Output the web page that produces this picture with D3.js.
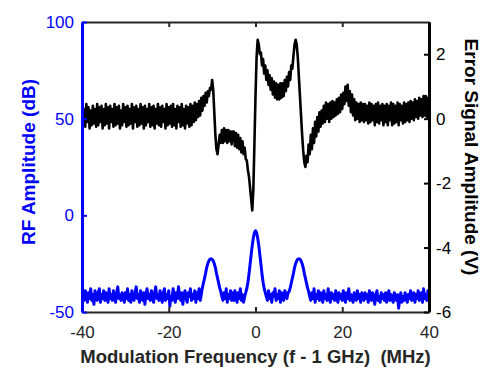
<!DOCTYPE html>
<html>
<head>
<meta charset="utf-8">
<script src="https://cdn.jsdelivr.net/npm/d3@7"></script>
<style>
  html, body { margin: 0; padding: 0; background: #fff; }
  svg { display: block; }
  text { font-family: "Liberation Sans", Arial, Helvetica, sans-serif; }
</style>
</head>
<body>
<svg id="chart" width="498" height="379"></svg>
<script>
// ---- data ----
const freqStart = -40;      // MHz
const freqStep = 0.25;      // MHz between samples

// Error signal (V), right axis; samples from -40 to 40 MHz (20 per row = 5 MHz)
const errorSignal = [
  0.4,-0.2,0.3,-0.25,0.45,-0.1,0.35,-0.3,0.25,-0.2,0.4,-0.15,0.3,-0.25,0.45,-0.2,0.35,-0.1,0.4,-0.3,
  0.3,-0.2,0.45,-0.15,0.35,-0.3,0.4,-0.1,0.3,-0.25,0.45,-0.2,0.35,-0.15,0.4,-0.3,0.25,-0.2,0.45,-0.1,
  0.35,-0.25,0.4,-0.2,0.3,-0.15,0.45,-0.3,0.35,-0.1,0.4,-0.25,0.3,-0.2,0.45,-0.15,0.35,-0.3,0.4,-0.2,
  0.3,-0.1,0.45,-0.25,0.35,-0.2,0.4,-0.3,0.3,-0.15,0.45,-0.2,0.35,-0.25,0.4,-0.1,0.3,-0.3,0.45,-0.2,
  0.35,-0.15,0.4,-0.25,0.45,-0.2,0.3,-0.3,0.4,-0.1,0.35,-0.25,0.45,-0.2,0.3,-0.3,0.4,-0.15,0.35,-0.25,
  0.45,-0.2,0.4,-0.1,0.5,-0.05,0.45,0.05,0.55,0.1,0.65,0.25,0.7,0.4,0.8,0.5,0.85,0.7,0.95,0.9,
  1.2,0.9,0.2,-0.5,-0.95,-1.1,-0.8,-0.5,-0.75,-0.35,-0.75,-0.3,-0.7,-0.35,-0.75,-0.35,-0.7,-0.4,-0.8,-0.4,
  -0.4,-0.85,-0.45,-0.9,-0.5,-0.95,-0.6,-1.05,-0.7,-1.1,-0.9,-1.25,-1.3,-1.6,-1.8,-2.15,-2.5,-2.85,-2.2,-0.8,
  0.7,1.9,2.45,2.3,2.0,2.05,1.65,1.85,1.4,1.65,1.2,1.5,1.05,1.35,0.9,1.25,0.75,1.15,0.65,1.1,
  0.6,1.05,0.6,1.1,0.65,1.1,0.7,1.2,0.85,1.3,1.0,1.45,1.2,1.65,1.55,1.95,2.3,2.45,2.3,1.9,
  1.3,0.7,0.1,-0.5,-1.0,-1.35,-1.5,-1.15,-1.35,-0.8,-1.1,-0.5,-0.95,-0.3,-0.75,-0.1,-0.55,0.05,-0.4,0.2,
  -0.25,0.25,-0.15,0.4,-0.1,0.5,0.0,0.45,-0.1,0.5,0.0,0.55,0.05,0.5,0.1,0.6,0.15,0.65,0.2,0.75,
  0.3,0.8,0.45,1.0,0.55,1.05,0.4,0.85,0.2,0.75,0.1,0.6,-0.05,0.5,0.0,0.45,-0.1,0.5,-0.05,0.45,
  -0.1,0.45,-0.05,0.4,-0.15,0.5,-0.1,0.45,-0.05,0.4,-0.2,0.45,-0.1,0.5,-0.15,0.4,-0.05,0.45,-0.2,0.4,
  -0.1,0.45,-0.2,0.4,-0.05,0.5,-0.2,0.45,-0.15,0.4,-0.1,0.5,-0.2,0.45,-0.05,0.4,-0.15,0.5,-0.1,0.45,
  -0.05,0.5,-0.1,0.55,0.0,0.5,-0.05,0.6,0.05,0.55,0.0,0.65,0.1,0.6,0.05,0.7,0.1,0.7,0.05,0.65,
  0.4
];

// RF amplitude (dB), left axis; same sampling
const rfAmplitude = [
  -37,-42,-44,-39,-41,-45,-40,-43,-38,-44,-41,-46,-39,-42,-44,-40,-38,-45,-41,-43,
  -39,-44,-40,-42,-45,-38,-43,-41,-44,-39,-42,-45,-40,-37,-43,-41,-44,-40,-42,-45,
  -40,-43,-38,-44,-41,-45,-39,-42,-44,-40,-37,-43,-41,-45,-39,-42,-44,-40,-46,-41,
  -38,-43,-41,-44,-39,-42,-45,-40,-37,-43,-41,-44,-39,-42,-45,-40,-38,-44,-41,-43,
  -39,-47,-42,-44,-38,-41,-45,-40,-43,-37,-42,-44,-40,-46,-41,-39,-43,-45,-40,-42,
  -38,-44,-41,-43,-39,-45,-40,-43,-38,-44,-41,-37.5,-35,-32.5,-30,-27,-25,-23.5,-22.7,-22.5,
  -22.8,-23.5,-25,-27,-30,-32.5,-35,-37.5,-39.5,-42,-44,-40,-43,-38,-45,-41,-43,-39,-44,-40,
  -44,-39,-42,-45,-40,-43,-38,-44,-41,-45,-42,-40,-37.8,-34.6,-30.4,-25.4,-20.3,-15.5,-11.7,-8.9,
  -8,-8.9,-11.7,-15.5,-20.3,-25.4,-30.4,-34.6,-37.8,-40,-42,-44,-39,-43,-41,-45,-40,-42,-38,-44,
  -41,-43,-39,-45,-40,-42,-44,-39,-41,-43,-40,-39.5,-37.5,-35,-32.5,-30,-27,-25,-23.5,-22.7,
  -22.5,-22.7,-23.5,-25,-27,-30,-32.5,-35,-37.5,-39.5,-42,-44,-40,-43,-38,-45,-41,-43,-39,-44,
  -40,-42,-45,-39,-43,-41,-44,-38,-42,-45,-40,-43,-41,-44,-39,-42,-45,-40,-43,-41,
  -44,-39,-42,-45,-40,-43,-38,-44,-41,-43,-45,-40,-42,-44,-39,-43,-41,-45,-40,-42,
  -44,-40,-43,-41,-45,-39,-42,-44,-40,-43,-46,-41,-39,-44,-42,-45,-40,-43,-41,-44,
  -40,-45,-42,-39,-44,-41,-43,-45,-40,-42,-44,-41,-48,-43,-40,-45,-42,-44,-40,-43,
  -45,-41,-43,-39,-44,-42,-40,-45,-41,-43,-39,-44,-42,-40,-45,-38,-43,-41,-44,-39,
  -41
];

const xTicks = [-40, -20, 0, 20, 40];
const yLeftTicks = [-50, 0, 50, 100];
const yRightTicks = [-6, -4, -2, 0, 2];
const xLabel = "Modulation Frequency (f - 1 GHz)  (MHz)";
const yLeftLabel = "RF Amplitude (dB)";
const yRightLabel = "Error Signal Amplitude (V)";

// ---- layout ----
const L = 82, R = 429, T = 22, B = 312;
const blue = "#0000ff", dark = "#262626";
const fmt = d => String(d);

const svg = d3.select("#chart");
const x = d3.scaleLinear().domain([-40, 40]).range([L, R]);
const yL = d3.scaleLinear().domain([-50, 100]).range([B, T]);
const yR = d3.scaleLinear().domain([-6, 3]).range([B, T]);

svg.append("clipPath").attr("id", "clip")
  .append("rect").attr("x", L).attr("y", T).attr("width", R - L).attr("height", B - T);

const plot = svg.append("g").attr("clip-path", "url(#clip)");
const fx = (d, i) => x(freqStart + i * freqStep);

plot.append("path")
  .datum(rfAmplitude)
  .attr("fill", "none").attr("stroke", blue).attr("stroke-width", 3)
  .attr("stroke-linejoin", "round").attr("stroke-linecap", "round")
  .attr("d", d3.line().x(fx).y(d => yL(d)));

plot.append("path")
  .datum(errorSignal)
  .attr("fill", "none").attr("stroke", "#000").attr("stroke-width", 2.6)
  .attr("stroke-linejoin", "round").attr("stroke-linecap", "round")
  .attr("d", d3.line().x(fx).y(d => yR(d)));

// ---- axes ----
function styleAxis(g, color, fontSize) {
  g.select(".domain").attr("stroke", color).attr("stroke-width", 2);
  g.selectAll(".tick line").attr("stroke", color).attr("stroke-width", 2);
  g.selectAll(".tick text").attr("fill", color).attr("font-size", fontSize)
    .attr("font-family", '"Liberation Sans", Arial, sans-serif');
}

const gTop = svg.append("g").attr("transform", `translate(0,${T})`)
  .call(d3.axisTop(x).tickValues(xTicks).tickSizeInner(-5).tickSizeOuter(0).tickFormat(""));
styleAxis(gTop, dark, 17);

const gBottom = svg.append("g").attr("transform", `translate(0,${B})`)
  .call(d3.axisBottom(x).tickValues(xTicks).tickSizeInner(-5).tickSizeOuter(0).tickPadding(14).tickFormat(fmt));
styleAxis(gBottom, dark, 17);

const gLeft = svg.append("g").attr("transform", `translate(${L},0)`)
  .call(d3.axisLeft(yL).tickValues(yLeftTicks).tickSizeInner(-5).tickSizeOuter(0).tickPadding(8).tickFormat(fmt));
styleAxis(gLeft, blue, 17);
gLeft.select(".domain").attr("stroke-width", 3);

const gRight = svg.append("g").attr("transform", `translate(${R},0)`)
  .call(d3.axisRight(yR).tickValues(yRightTicks).tickSizeInner(-5).tickSizeOuter(0).tickPadding(7).tickFormat(fmt));
styleAxis(gRight, "#000", 17);
gRight.select(".domain").attr("stroke-width", 3);

// ---- titles ----
svg.append("text")
  .attr("x", (L + R) / 2).attr("y", 363)
  .attr("text-anchor", "middle").attr("font-weight", "bold").attr("font-size", 18.5)
  .style("white-space", "pre")
  .attr("fill", dark).text(xLabel);

svg.append("text")
  .attr("transform", `translate(35,162) rotate(-90)`)
  .attr("text-anchor", "middle").attr("font-weight", "bold").attr("font-size", 19)
  .attr("fill", blue).text(yLeftLabel);

svg.append("text")
  .attr("transform", `translate(465,157) rotate(90)`)
  .attr("text-anchor", "middle").attr("font-weight", "bold").attr("font-size", 19)
  .attr("fill", "#000").text(yRightLabel);
</script>
</body>
</html>
